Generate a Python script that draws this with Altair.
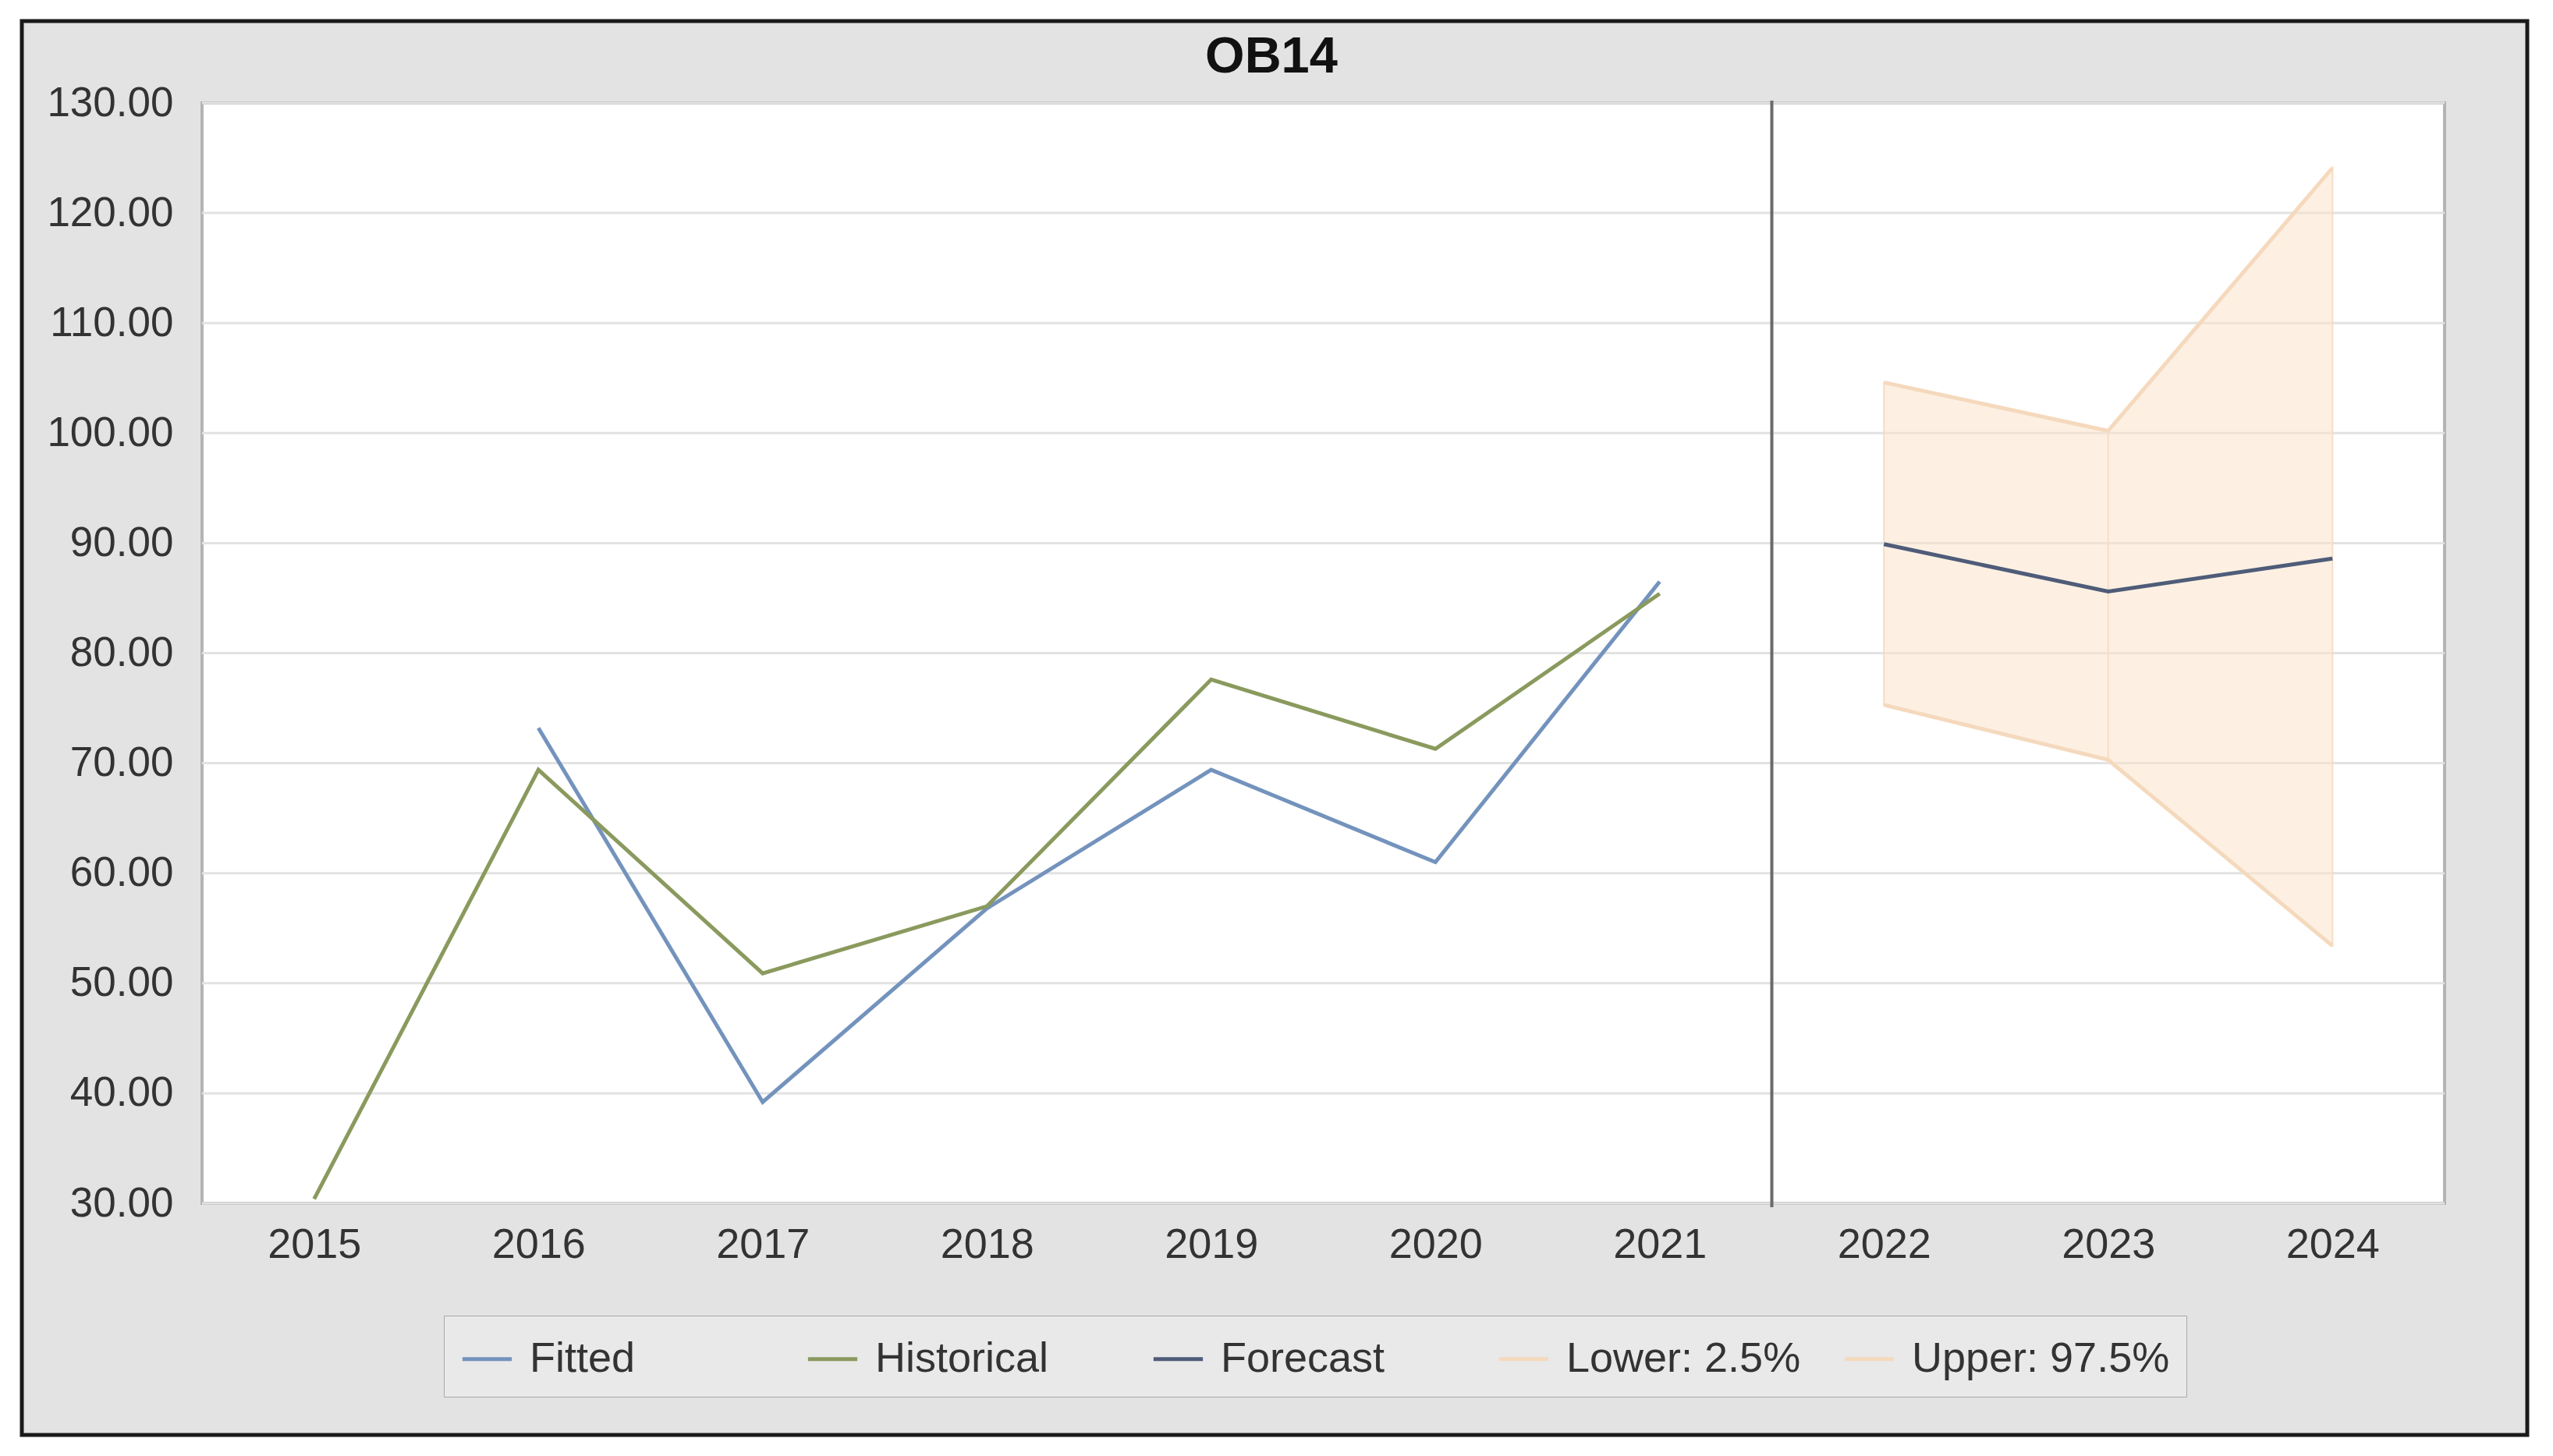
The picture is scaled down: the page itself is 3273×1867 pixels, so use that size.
import altair as alt
import pandas as pd

# ---- data ----
chart_title = ["OB14"]

fitted_years = [2016, 2017, 2018, 2019, 2020, 2021]
fitted_vals = [73.2, 39.2, 56.8, 69.4, 61.0, 86.5]

hist_years = [2015, 2016, 2017, 2018, 2019, 2020, 2021]
hist_vals = [30.4, 69.4, 50.9, 57.0, 77.6, 71.3, 85.4]

fc_years = [2022, 2023, 2024]
forecast_vals = [89.9, 85.6, 88.6]
lower_vals = [75.3, 70.3, 53.4]
upper_vals = [104.6, 100.2, 124.1]

x_ticks = [2015, 2016, 2017, 2018, 2019, 2020, 2021, 2022, 2023, 2024]
y_ticks = [30, 40, 50, 60, 70, 80, 90, 100, 110, 120, 130]
split_year = [2021.5]

series_names = ["Fitted", "Historical", "Forecast", "Lower: 2.5%", "Upper: 97.5%"]
series_colors = ["#7393bd", "#8a9a5e", "#4f5c79", "#f5d9bd", "#f5d9bd"]

W, H = 2875, 1411
FONT = "Liberation Sans"

rows = []
for y, v in zip(fitted_years, fitted_vals):
    rows.append({"year": y, "value": v, "series": "Fitted"})
for y, v in zip(hist_years, hist_vals):
    rows.append({"year": y, "value": v, "series": "Historical"})
for y, v in zip(fc_years, forecast_vals):
    rows.append({"year": y, "value": v, "series": "Forecast"})
for y, v in zip(fc_years, lower_vals):
    rows.append({"year": y, "value": v, "series": "Lower: 2.5%"})
for y, v in zip(fc_years, upper_vals):
    rows.append({"year": y, "value": v, "series": "Upper: 97.5%"})
lines_df = pd.DataFrame(rows)

band_df = pd.DataFrame({"year": fc_years, "lower": lower_vals, "upper": upper_vals})
grid_df = pd.DataFrame({"tick": y_ticks})
split_df = pd.DataFrame({"year": split_year})
title_df = pd.DataFrame({"label": chart_title})
one = pd.DataFrame({"k": [0]})

xscale = alt.Scale(domain=[2014.5, 2024.5], nice=False, zero=False)
yscale = alt.Scale(domain=[30, 130], nice=False, zero=False)

xaxis = alt.Axis(values=x_ticks, format="d", title=None, grid=False, domain=False,
                 ticks=False, labelFontSize=54, labelFont=FONT, labelColor="#333333",
                 labelPadding=26, zindex=1)
yaxis = alt.Axis(values=y_ticks, format=".2f", title=None, grid=False, domain=False,
                 ticks=False, labelFontSize=53, labelFont=FONT, labelColor="#333333",
                 labelPadding=37, zindex=1)

frame = alt.Chart(one).mark_rect(fill="#e3e3e3", stroke="#1a1a1a", strokeWidth=5).encode(
    x=alt.value(-231), x2=alt.value(2981), y=alt.value(-105), y2=alt.value(1708)
)
plotbg = alt.Chart(one).mark_rect(fill="white", stroke="#b4b4b4", strokeWidth=4).encode(
    x=alt.value(0), x2=alt.value(W), y=alt.value(0), y2=alt.value(H)
)
title_txt = alt.Chart(title_df).mark_text(
    font=FONT, fontSize=65, fontWeight="bold", color="#111111",
    align="center", baseline="alphabetic"
).encode(text="label:N", x=alt.value(1371), y=alt.value(-39))
grid = alt.Chart(grid_df).mark_rule(color="#e2e2e2", strokeWidth=3).encode(
    y=alt.Y("tick:Q", scale=yscale, axis=yaxis),
    x=alt.value(0), x2=alt.value(W)
)
band = alt.Chart(band_df).mark_area(fill="#fce3cc", fillOpacity=0.55, stroke="#f7dcc4",
                                    strokeWidth=2).encode(
    x=alt.X("year:Q", scale=xscale, axis=xaxis),
    y=alt.Y("lower:Q", scale=yscale),
    y2="upper:Q"
)
midrule = alt.Chart(band_df[band_df["year"] == 2023]).mark_rule(color="#f5dcc6", strokeWidth=2).encode(
    x=alt.X("year:Q", scale=xscale),
    y=alt.Y("lower:Q", scale=yscale),
    y2="upper:Q"
)
lines = alt.Chart(lines_df).mark_line(strokeWidth=5).encode(
    x=alt.X("year:Q", scale=xscale),
    y=alt.Y("value:Q", scale=yscale),
    color=alt.Color(
        "series:N",
        scale=alt.Scale(domain=series_names, range=series_colors),
        sort=series_names,
        legend=alt.Legend(
            title=None, orient="none", legendX=310, legendY=1555,
            direction="horizontal", columns=5, gridAlign="all",
            symbolType="stroke", symbolSize=4000, symbolStrokeWidth=5,
            labelFontSize=54, labelFont=FONT, labelColor="#333333", labelLimit=0,
            labelOffset=20, columnPadding=15, padding=21,
            fillColor="#e9e9e9", strokeColor="#a8a8a8", zindex=1,
        ),
    ),
    detail="series:N",
    order="year:Q",
)
split = alt.Chart(split_df).mark_rule(color="#6a6a6a", strokeWidth=4).encode(
    x=alt.X("year:Q", scale=xscale),
    y=alt.value(-3), y2=alt.value(H + 5)
)

chart = alt.layer(frame, plotbg, title_txt, grid, band, midrule, lines, split).properties(
    width=W, height=H,
    padding={"left": 251, "top": 124, "right": 131, "bottom": 316},
    autosize=alt.AutoSizeParams(type="none"),
    background="white",
).configure_view(stroke=None)

chart.save("out.html", embed_options={"renderer": "svg", "actions": False})
